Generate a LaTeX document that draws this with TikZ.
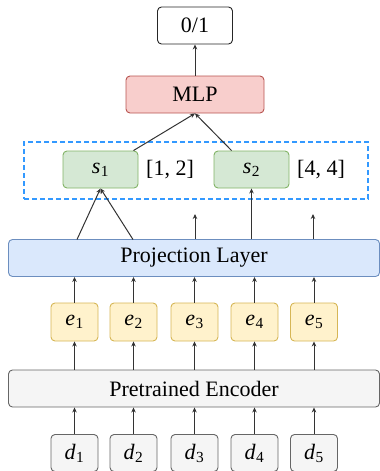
\documentclass[tikz,border=0pt]{standalone}
\usepackage{fontspec}
\setmainfont{Liberation Serif}
\usetikzlibrary{arrows.meta}
\definecolor{redfill}{HTML}{F8CECC}\definecolor{redline}{HTML}{B85450}
\definecolor{greenfill}{HTML}{D5E8D4}\definecolor{greenline}{HTML}{82B366}
\definecolor{bluefill}{HTML}{DAE8FC}\definecolor{blueline}{HTML}{6C8EBF}
\definecolor{yelfill}{HTML}{FFF2CC}\definecolor{yelline}{HTML}{D6B656}
\definecolor{grayfill}{HTML}{F5F5F5}\definecolor{grayline}{HTML}{666666}
\definecolor{dashblue}{HTML}{3399FF}
\newcommand{\vsub}[2]{\textit{#1}\kern0.5pt\textsubscript{#2}}
\begin{document}
\begin{tikzpicture}[x=1pt,y=-1pt,
  box/.style={draw, rounded corners=4pt, line width=0.9pt, inner sep=0pt, align=center,
    font=\fontsize{22}{26}\selectfont},
  outbox/.style={box, fill=white, draw=black!85, minimum width=75pt, minimum height=37pt},
  mlpbox/.style={box, fill=redfill, draw=redline, minimum width=138pt, minimum height=37pt},
  sbox/.style={box, fill=greenfill, draw=greenline, minimum width=75pt, minimum height=37pt},
  widebox/.style={box, minimum width=371pt, minimum height=37pt},
  ebox/.style={box, fill=yelfill, draw=yelline, minimum width=47pt, minimum height=38pt},
  dbox/.style={box, fill=grayfill, draw=grayline, minimum width=47pt, minimum height=37pt},
  lab/.style={font=\fontsize{22}{26}\selectfont, inner sep=0pt},
  arr/.style={draw=black!80, line width=1pt, -{Stealth[length=5pt,width=4.5pt]}},
]
\useasboundingbox (0,0) rectangle (380,471);
% dashed group
\node[draw=dashblue, dashed, dash pattern=on 5pt off 3pt, line width=1.3pt, minimum width=344pt, minimum height=57pt, inner sep=0pt] (grp) at (196,170.5) {};
\node[outbox] (out) at (195,25.5) {0/1};
\node[mlpbox] (mlp) at (195,94.5) {MLP};
\node[sbox] (s1) at (100.5,169.5) {\vsub{s}{1}};
\node[sbox] (s2) at (251.5,169.5) {\vsub{s}{2}};
\node[lab] (l1) at (170,170) {[1, 2]};
\node[lab] (l2) at (321,170) {[4, 4]};
\node[widebox, fill=bluefill, draw=blueline] (proj) at (194,258) {Projection Layer};
\node[widebox, fill=grayfill, draw=grayline] (enc) at (194,388.5) {Pretrained Encoder};
\foreach \i/\x in {1/74.5,2/133.5,3/194.5,4/254.5,5/314}{
  \node[ebox] (e\i) at (\x,322) {\vsub{e}{\i}};
  \node[dbox] (d\i) at (\x,453) {\vsub{d}{\i}};
  \draw[arr] (d\i) -- (enc.south -| d\i);
  \draw[arr] (enc.north -| e\i) -- (e\i);
  \draw[arr] (e\i) -- (proj.south -| e\i);
}
\coordinate (p1) at (77,239.5);
\coordinate (p2) at (133,239.5);
\coordinate (t3) at (195,214);
\coordinate (t5) at (313,214);
\draw[arr] (p1) -- (s1.south);
\draw[arr] (p2) -- (s1.south);
\draw[arr] (proj.north -| t3) -- (t3);
\draw[arr] (proj.north -| s2) -- (s2);
\draw[arr] (proj.north -| t5) -- (t5);
\draw[arr] (s1.north east) ++(-5,0) coordinate (s1a) -- (mlp.south);
\draw[arr] (s2.north west) ++(18,0) coordinate (s2a) -- (mlp.south);
\draw[arr] (mlp) -- (out);
\end{tikzpicture}
\end{document}
